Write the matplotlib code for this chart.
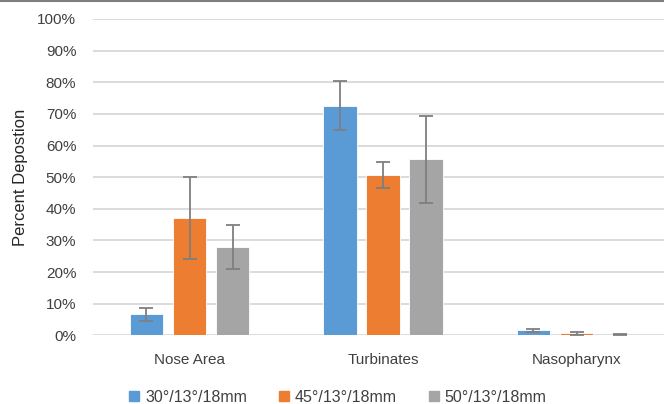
import matplotlib
matplotlib.use("Agg")
import matplotlib.pyplot as plt
from matplotlib.ticker import FuncFormatter
from matplotlib.lines import Line2D
import numpy as np

plt.rcParams['font.family'] = ['Liberation Sans', 'DejaVu Sans']

categories = ["Nose Area", "Turbinates", "Nasopharynx"]
series_names = ["30°/13°/18mm", "45°/13°/18mm", "50°/13°/18mm"]
values_30 = [6.6, 72.6, 1.6]
values_45 = [37.2, 50.6, 0.6]
values_50 = [28.0, 55.6, 0.2]
errors_30 = [2.1, 7.7, 0.5]
errors_45 = [13.0, 4.1, 0.4]
errors_50 = [6.9, 13.7, 0.2]
yticks = [0, 10, 20, 30, 40, 50, 60, 70, 80, 90, 100]

colors = ["#5B9BD5", "#ED7D31", "#A5A5A5"]
W, H = 664, 404
fig = plt.figure(figsize=(W / 100, H / 100), dpi=100)
ax = fig.add_axes([93 / W, (H - 335.3) / H, (664 - 93) / W, (335.3 - 19) / H])

x = np.arange(len(categories))
offsets = [-0.223, 0.0, 0.223]
width = 0.174
for vals, errs, off, col, name in zip([values_30, values_45, values_50],
                                      [errors_30, errors_45, errors_50],
                                      offsets, colors, series_names):
    ax.bar(x + off, vals, width, color=col, edgecolor="white", linewidth=0.6,
           label=name, zorder=3)
    ax.errorbar(x + off, vals, yerr=errs, fmt="none", ecolor="#7F7F7F",
                elinewidth=1.3, capsize=5, capthick=1.3, zorder=4)

ax.set_xlim(-0.4987, 2.452)
ax.set_ylim(0, 100)
ax.set_yticks(yticks)
ax.yaxis.set_major_formatter(FuncFormatter(lambda v, p: f"{v:.0f}%"))
ax.grid(axis="y", color="#D9D9D9", linewidth=1.3, zorder=0)
ax.set_axisbelow(True)
for s in ax.spines.values():
    s.set_visible(False)
ax.tick_params(axis="both", length=0, labelsize=11, colors="#404040")
ax.tick_params(axis="y", pad=12)
ax.tick_params(axis="x", pad=13)
ax.set_xticks(x)
ax.set_xticklabels(categories)
ax.set_ylabel("Percent Depostion", fontsize=12, color="#262626")
ax.yaxis.set_label_coords(-65 / (664 - 93), 0.5)

proxies = [Line2D([0], [0], marker="s", linestyle="none", markersize=7,
                  markerfacecolor=c, markeredgecolor=c) for c in colors]
fig.legend(proxies, series_names, loc="center", bbox_to_anchor=(337 / W, 1 - 397 / H),
           ncol=3, frameon=False, fontsize=11.5, handlelength=0.8, handletextpad=0.3,
           columnspacing=1.9, labelcolor="#404040")

fig.add_artist(Line2D([0, 1], [1 - 0.5 / H, 1 - 0.5 / H], color="#7F7F7F",
                      linewidth=1.5, transform=fig.transFigure))

fig.savefig("out.png", dpi=100)
